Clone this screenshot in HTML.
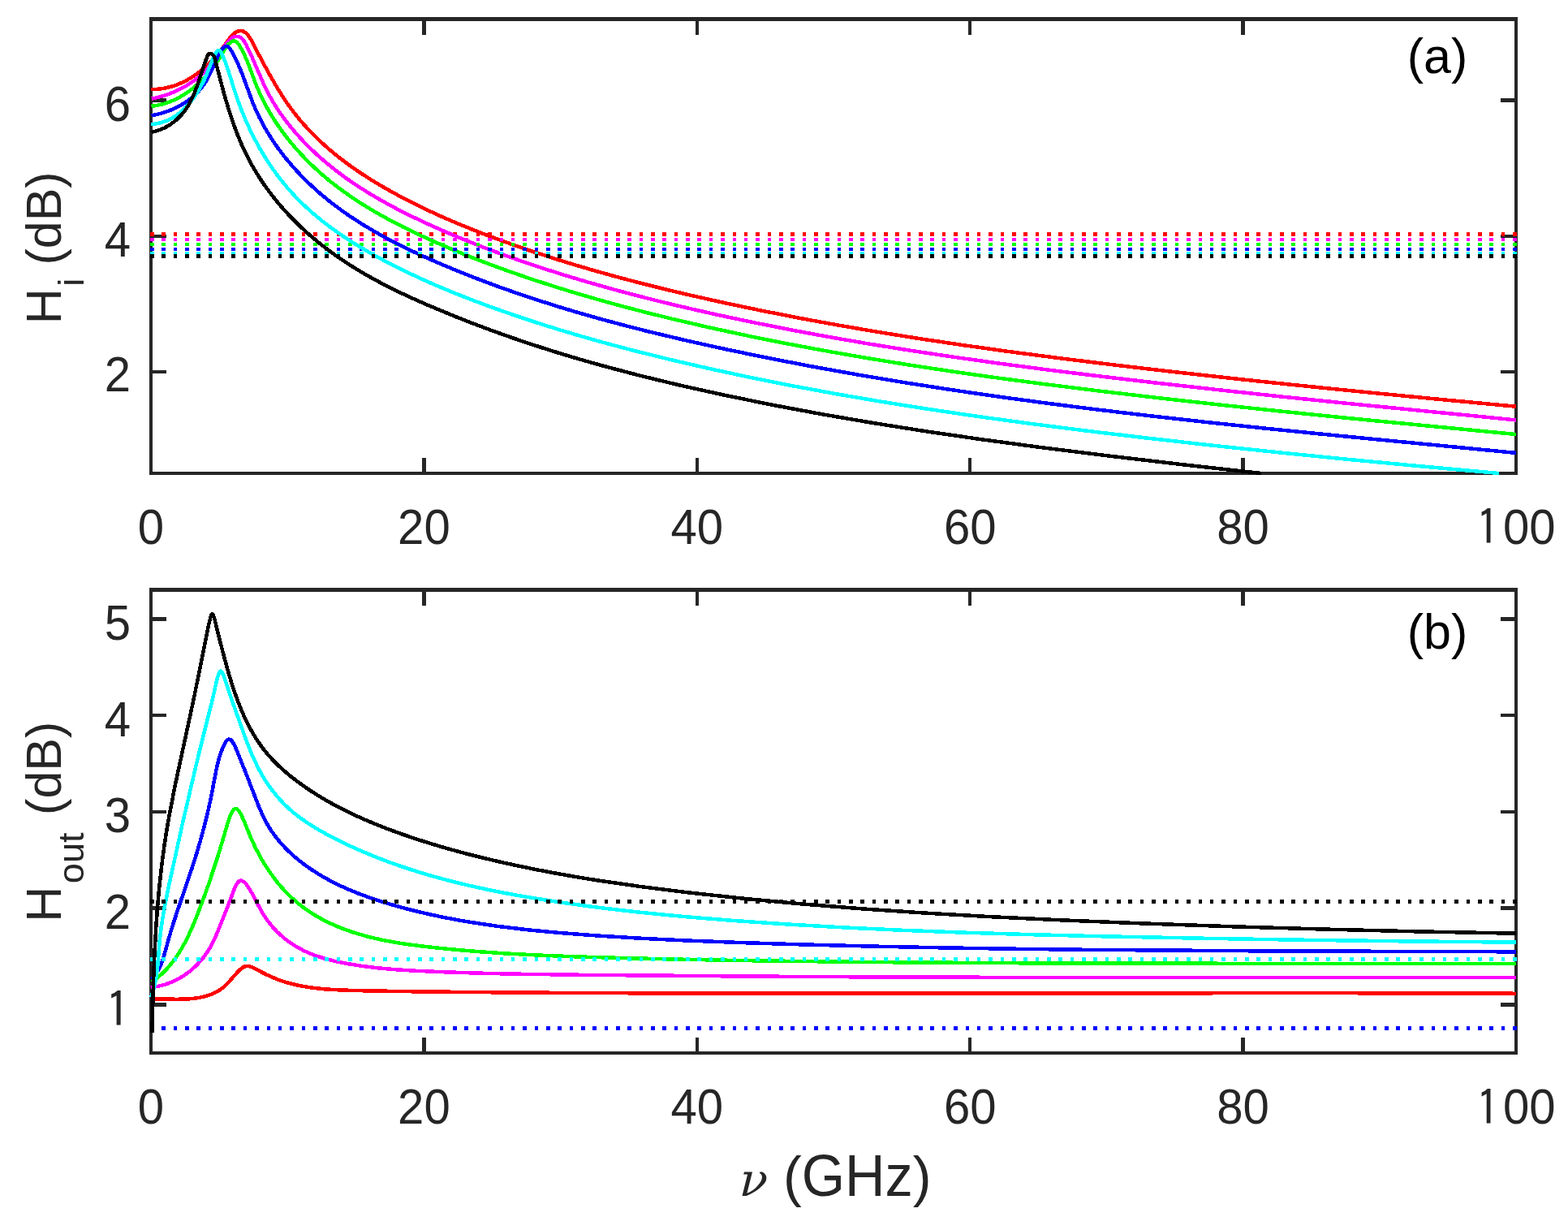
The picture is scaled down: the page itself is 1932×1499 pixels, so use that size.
<!DOCTYPE html>
<html><head><meta charset="utf-8"><title>H_i and H_out vs frequency</title><style>html,body{margin:0;padding:0;background:#fff;}svg{display:block;}</style></head><body>
<svg width="1932" height="1499" viewBox="0 0 1932 1499" shape-rendering="crispEdges">
<defs><clipPath id="ca"><rect x="183.75" y="15" width="1686.5" height="580"/></clipPath><clipPath id="cb"><rect x="183.75" y="718" width="1686.5" height="590"/></clipPath></defs>
<rect width="1932" height="1499" fill="#fff"/>
<g stroke="#262626" stroke-width="4.5"><rect x="186.00" y="23.35" width="1682.00" height="559.65" fill="none" stroke="#262626" stroke-width="4.5"/>
<line x1="522.40" y1="583.00" x2="522.40" y2="563.60"/>
<line x1="522.40" y1="23.35" x2="522.40" y2="42.75"/>
<line x1="858.80" y1="583.00" x2="858.80" y2="563.60"/>
<line x1="858.80" y1="23.35" x2="858.80" y2="42.75"/>
<line x1="1195.20" y1="583.00" x2="1195.20" y2="563.60"/>
<line x1="1195.20" y1="23.35" x2="1195.20" y2="42.75"/>
<line x1="1531.60" y1="583.00" x2="1531.60" y2="563.60"/>
<line x1="1531.60" y1="23.35" x2="1531.60" y2="42.75"/>
<line x1="186.00" y1="123.60" x2="204.70" y2="123.60"/>
<line x1="1868.00" y1="123.60" x2="1849.30" y2="123.60"/>
<line x1="186.00" y1="290.80" x2="204.70" y2="290.80"/>
<line x1="1868.00" y1="290.80" x2="1849.30" y2="290.80"/>
<line x1="186.00" y1="458.00" x2="204.70" y2="458.00"/>
<line x1="1868.00" y1="458.00" x2="1849.30" y2="458.00"/></g>
<g stroke="#262626" stroke-width="4.5"><rect x="186.00" y="726.60" width="1682.00" height="570.40" fill="none" stroke="#262626" stroke-width="4.5"/>
<line x1="522.40" y1="1297.00" x2="522.40" y2="1277.60"/>
<line x1="522.40" y1="726.60" x2="522.40" y2="746.00"/>
<line x1="858.80" y1="1297.00" x2="858.80" y2="1277.60"/>
<line x1="858.80" y1="726.60" x2="858.80" y2="746.00"/>
<line x1="1195.20" y1="1297.00" x2="1195.20" y2="1277.60"/>
<line x1="1195.20" y1="726.60" x2="1195.20" y2="746.00"/>
<line x1="1531.60" y1="1297.00" x2="1531.60" y2="1277.60"/>
<line x1="1531.60" y1="726.60" x2="1531.60" y2="746.00"/>
<line x1="186.00" y1="762.40" x2="204.70" y2="762.40"/>
<line x1="1868.00" y1="762.40" x2="1849.30" y2="762.40"/>
<line x1="186.00" y1="881.20" x2="204.70" y2="881.20"/>
<line x1="1868.00" y1="881.20" x2="1849.30" y2="881.20"/>
<line x1="186.00" y1="1000.00" x2="204.70" y2="1000.00"/>
<line x1="1868.00" y1="1000.00" x2="1849.30" y2="1000.00"/>
<line x1="186.00" y1="1118.70" x2="204.70" y2="1118.70"/>
<line x1="1868.00" y1="1118.70" x2="1849.30" y2="1118.70"/>
<line x1="186.00" y1="1237.40" x2="204.70" y2="1237.40"/>
<line x1="1868.00" y1="1237.40" x2="1849.30" y2="1237.40"/></g>
<g clip-path="url(#ca)" fill="none" stroke-width="4.50" stroke-linejoin="round"><path d="M185.57 110.15 L192.32 109.96 L198.90 109.28 L205.31 108.13 L211.54 106.54 L217.60 104.53 L223.89 101.94 L229.97 98.93 L236.24 95.28 L242.64 90.95 L248.77 86.20 L254.97 80.76 L260.87 74.94 L270.02 64.54 L275.10 57.97 L282.86 47.13 L285.24 44.26 L287.54 41.95 L290.44 39.78 L293.55 38.41 L296.71 37.96 L299.70 38.56 L301.78 39.69 L304.05 41.61 L306.43 44.45 L308.63 47.78 L322.67 74.49 L331.80 91.26 L340.32 106.02 L348.64 119.37 L354.84 128.56 L361.08 137.12 L367.61 145.41 L374.74 153.75 L384.06 163.78 L394.14 173.68 L404.65 183.14 L415.90 192.45 L427.90 201.62 L440.25 210.36 L453.68 219.19 L467.81 227.83 L484.61 237.41 L502.48 246.90 L520.99 256.10 L540.54 265.20 L560.70 274.00 L582.33 282.86 L604.98 291.61 L628.65 300.26 L653.32 308.80 L678.58 317.08 L704.40 325.11 L731.23 333.00 L759.06 340.76 L787.44 348.25 L816.82 355.62 L847.62 362.95 L891.93 372.89 L937.71 382.50 L984.95 391.77 L1033.20 400.61 L1083.37 409.18 L1134.98 417.42 L1188.95 425.46 L1245.27 433.32 L1306.21 441.29 L1372.67 449.47 L1444.64 457.88 L1519.84 466.22 L1596.90 474.37 L1678.56 482.63 L1767.10 491.24 L1868.02 500.74" stroke="#ff0000"/>
<line x1="185" y1="288.50" x2="1868.9" y2="288.50" stroke="#ff0000" stroke-width="4.6" stroke-dasharray="4.6 9.75"/>
<path d="M186.82 121.67 L194.00 120.07 L200.66 118.22 L207.67 115.88 L214.12 113.35 L220.43 110.49 L226.57 107.31 L232.53 103.79 L237.89 100.22 L243.40 96.07 L248.31 91.90 L252.97 87.46 L257.69 82.42 L265.83 72.37 L277.78 55.35 L280.45 52.09 L283.38 49.00 L286.26 46.61 L288.99 45.25 L291.81 44.83 L294.79 45.44 L297.10 46.79 L299.18 48.77 L301.31 51.63 L303.69 55.80 L309.95 69.15 L325.08 103.97 L329.84 113.70 L334.63 122.45 L340.07 131.42 L346.19 140.58 L352.73 149.51 L359.95 158.56 L369.42 169.42 L379.73 180.17 L390.48 190.43 L401.96 200.49 L414.18 210.31 L426.75 219.63 L440.41 228.97 L454.79 238.07 L471.07 247.60 L488.48 257.04 L507.01 266.39 L527.45 276.05 L548.95 285.61 L571.48 295.06 L594.64 304.21 L618.82 313.24 L644.04 322.14 L669.83 330.76 L696.20 339.10 L723.13 347.18 L751.07 355.11 L779.56 362.78 L809.05 370.30 L839.98 377.78 L883.15 387.59 L928.70 397.25 L974.82 406.39 L1022.41 415.19 L1071.46 423.65 L1122.43 431.85 L1175.31 439.79 L1231.02 447.61 L1289.54 455.32 L1353.15 463.20 L1423.67 471.50 L1498.34 479.87 L1574.42 488.04 L1656.95 496.56 L1868.02 517.42" stroke="#ff00ff"/>
<line x1="185" y1="295.00" x2="1868.9" y2="295.00" stroke="#ff00ff" stroke-width="4.6" stroke-dasharray="4.6 9.75"/>
<path d="M186.55 130.91 L193.11 129.95 L199.50 128.51 L205.73 126.63 L212.22 124.14 L218.50 121.20 L224.58 117.85 L230.82 113.86 L236.82 109.48 L242.90 104.44 L248.68 99.07 L254.46 93.06 L259.58 87.11 L267.04 77.03 L270.33 71.88 L276.79 60.86 L278.86 57.82 L281.13 55.03 L283.65 52.57 L286.11 50.93 L287.96 50.43 L289.81 50.71 L291.81 51.96 L294.15 54.73 L297.45 60.21 L300.99 67.09 L306.02 78.81 L313.88 100.08 L317.28 108.62 L322.00 119.12 L327.21 129.42 L332.89 139.49 L339.02 149.33 L345.83 159.31 L353.07 169.01 L362.21 180.21 L372.18 191.32 L382.64 201.95 L393.89 212.39 L405.55 222.29 L417.96 231.96 L431.13 241.40 L445.03 250.59 L460.86 260.24 L477.45 269.58 L495.58 279.05 L514.82 288.42 L536.40 298.28 L559.01 308.02 L582.25 317.44 L606.52 326.72 L631.40 335.70 L657.30 344.55 L683.78 353.12 L711.29 361.55 L739.38 369.69 L768.03 377.56 L797.69 385.27 L827.91 392.73 L872.25 403.00 L919.00 413.10 L966.78 422.73 L1015.59 431.89 L1066.34 440.76 L1118.57 449.26 L1173.19 457.55 L1230.19 465.61 L1290.50 473.59 L1355.93 481.73 L1427.86 490.18 L1503.53 498.62 L1580.62 506.82 L1664.21 515.34 L1868.01 535.03" stroke="#00ff00"/>
<line x1="185" y1="301.00" x2="1868.9" y2="301.00" stroke="#00ff00" stroke-width="4.6" stroke-dasharray="4.6 9.75"/>
<path d="M186.60 142.20 L193.89 140.81 L201.13 138.89 L208.26 136.45 L215.22 133.51 L221.96 130.07 L228.00 126.41 L233.74 122.33 L239.12 117.85 L243.45 113.64 L247.14 109.49 L250.52 105.09 L253.80 100.06 L258.44 91.44 L268.36 69.70 L270.74 64.92 L272.45 62.07 L274.46 59.56 L276.46 57.85 L278.58 56.93 L280.27 57.10 L281.22 57.63 L282.43 58.73 L284.91 62.21 L288.95 69.40 L292.79 77.41 L298.46 91.25 L311.14 125.71 L315.14 135.23 L319.53 144.56 L324.53 154.10 L329.91 163.41 L335.91 172.90 L342.30 182.14 L351.09 193.71 L360.74 205.20 L370.94 216.25 L381.63 226.82 L393.11 237.24 L405.38 247.44 L418.03 257.11 L431.42 266.52 L446.33 276.18 L462.41 285.76 L479.24 295.02 L497.63 304.40 L517.58 313.86 L539.05 323.41 L562.43 333.22 L586.85 342.90 L610.99 351.94 L635.73 360.70 L661.05 369.19 L687.41 377.54 L714.34 385.61 L741.85 393.41 L770.38 401.06 L800.38 408.68 L846.48 419.65 L895.95 430.57 L948.78 441.45 L1003.10 451.90 L1058.01 461.74 L1114.41 471.16 L1172.31 480.17 L1232.62 488.91 L1290.70 496.76 L1351.64 504.47 L1415.91 512.11 L1483.96 519.71 L1550.66 526.78 L1625.32 534.34 L1867.88 557.89" stroke="#0000ff"/>
<line x1="185" y1="307.00" x2="1868.9" y2="307.00" stroke="#0000ff" stroke-width="4.6" stroke-dasharray="4.6 9.75"/>
<path d="M185.90 153.19 L191.91 152.53 L198.12 151.19 L204.01 149.24 L209.61 146.74 L215.30 143.47 L220.64 139.68 L225.66 135.42 L230.68 130.39 L234.73 125.71 L238.51 120.77 L242.03 115.64 L245.54 109.93 L249.63 102.42 L253.26 94.83 L262.52 72.04 L264.45 67.88 L266.19 64.97 L267.89 62.88 L269.36 61.87 L270.46 61.94 L271.69 63.18 L273.00 65.61 L275.58 71.33 L278.22 77.99 L281.62 87.85 L288.29 109.53 L291.87 120.33 L296.62 133.28 L301.84 146.09 L307.74 159.15 L314.16 171.97 L320.84 184.10 L328.00 195.93 L336.18 208.21 L344.91 220.06 L354.19 231.44 L363.70 241.95 L374.04 252.29 L385.22 262.46 L397.23 272.41 L409.69 281.87 L424.12 291.92 L439.78 301.94 L456.65 311.88 L474.68 321.73 L494.22 331.70 L514.84 341.52 L536.10 351.00 L558.44 360.35 L582.29 369.73 L607.64 379.13 L634.07 388.40 L661.10 397.37 L688.74 406.04 L717.43 414.56 L746.72 422.78 L777.04 430.84 L823.18 442.33 L872.75 453.78 L923.86 464.76 L976.52 475.25 L1030.24 485.19 L1085.96 494.74 L1143.67 503.92 L1204.32 512.87 L1269.29 521.78 L1338.59 530.63 L1414.56 539.72 L1493.89 548.65 L1574.69 557.21 L1659.32 565.67 L1749.20 574.18 L1847.07 583.00" stroke="#00ffff"/>
<line x1="185" y1="312.40" x2="1868.9" y2="312.40" stroke="#00ffff" stroke-width="4.6" stroke-dasharray="4.6 9.75"/>
<path d="M186.49 162.89 L192.17 161.56 L198.11 159.53 L203.37 157.14 L208.81 154.05 L213.94 150.46 L218.73 146.43 L223.14 141.98 L227.13 137.17 L230.44 132.44 L233.42 127.48 L236.31 121.90 L239.28 115.25 L243.24 104.84 L251.35 80.34 L255.33 69.55 L256.49 67.49 L257.56 66.36 L258.48 65.93 L259.84 66.00 L261.17 66.62 L262.55 67.92 L263.63 69.64 L264.48 71.69 L275.65 113.86 L279.70 127.93 L283.74 140.91 L288.10 153.73 L292.48 165.45 L297.06 176.53 L302.03 187.42 L306.99 197.24 L312.58 207.27 L318.57 217.08 L324.94 226.67 L331.68 236.03 L339.06 245.52 L346.80 254.75 L354.88 263.71 L363.95 273.08 L373.36 282.13 L383.09 290.84 L393.48 299.51 L404.15 307.80 L415.07 315.72 L426.63 323.53 L438.83 331.24 L451.24 338.58 L464.29 345.82 L477.95 352.96 L492.65 360.21 L507.95 367.35 L524.72 374.80 L562.60 390.54 L583.70 398.79 L604.91 406.72 L626.22 414.35 L648.09 421.83 L670.06 429.01 L692.58 436.04 L715.66 442.91 L739.29 449.62 L788.20 462.57 L840.22 475.13 L895.77 487.39 L955.29 499.45 L1014.97 510.57 L1077.18 521.23 L1141.90 531.43 L1210.57 541.40 L1283.17 551.16 L1363.03 561.15 L1454.45 571.91 L1553.86 583.00" stroke="#000000"/>
<line x1="185" y1="315.40" x2="1868.9" y2="315.40" stroke="#000000" stroke-width="4.6" stroke-dasharray="4.6 9.75"/></g>
<g clip-path="url(#cb)" fill="none" stroke-width="4.50" stroke-linejoin="round"><path d="M185.76 1230.40 L218.95 1230.80 L232.15 1230.42 L239.36 1229.75 L245.69 1228.79 L251.94 1227.42 L257.63 1225.72 L261.96 1224.05 L266.15 1222.09 L270.16 1219.78 L273.62 1217.38 L276.89 1214.66 L279.99 1211.66 L291.46 1198.72 L296.16 1194.00 L298.48 1192.14 L300.52 1190.89 L302.60 1190.06 L304.72 1189.77 L306.88 1190.04 L309.80 1191.08 L329.51 1201.03 L341.31 1206.14 L353.77 1210.34 L367.28 1213.73 L383.09 1216.48 L400.39 1218.35 L419.99 1219.50 L448.65 1220.29 L512.15 1221.34 L612.51 1222.34 L721.85 1223.06 L840.59 1223.50 L1058.95 1223.68 L1594.34 1223.16 L1738.19 1223.33 L1868.01 1223.77" stroke="#ff0000"/>
<path d="M185.64 1216.09 L194.31 1214.91 L202.70 1212.87 L211.18 1209.87 L219.28 1206.04 L226.94 1201.44 L234.50 1195.86 L241.51 1189.57 L247.93 1182.65 L251.86 1177.71 L255.76 1172.18 L259.08 1166.79 L262.28 1160.82 L265.36 1154.28 L268.84 1145.96 L280.58 1116.41 L289.54 1092.89 L291.35 1089.32 L293.27 1086.59 L295.09 1085.08 L296.79 1084.63 L298.84 1085.17 L300.99 1086.67 L303.48 1089.30 L305.98 1092.70 L310.87 1100.84 L320.32 1118.94 L324.10 1125.65 L329.04 1133.14 L334.83 1140.55 L341.82 1148.10 L349.44 1155.01 L357.61 1161.24 L366.27 1166.76 L376.17 1171.91 L386.91 1176.37 L398.88 1180.32 L412.45 1183.83 L428.43 1187.08 L446.26 1189.94 L465.03 1192.24 L485.63 1194.09 L511.64 1195.72 L546.67 1197.25 L587.12 1198.57 L631.20 1199.60 L716.68 1200.80 L920.95 1202.54 L1064.91 1203.36 L1224.18 1203.80 L1867.99 1204.04" stroke="#ff00ff"/>
<path d="M187.03 1209.38 L193.56 1204.59 L199.61 1199.37 L205.54 1193.40 L211.32 1186.67 L216.64 1179.53 L221.79 1171.65 L226.76 1163.03 L231.75 1153.25 L237.12 1141.46 L242.61 1128.13 L249.75 1109.42 L256.77 1089.91 L268.02 1056.06 L280.68 1013.75 L283.21 1006.08 L285.06 1001.64 L286.82 998.50 L288.45 996.67 L290.15 995.94 L291.66 996.32 L293.20 997.54 L295.01 999.84 L296.79 1002.85 L300.43 1010.59 L309.32 1032.47 L314.89 1044.45 L322.98 1059.47 L327.42 1066.76 L331.87 1073.49 L341.19 1086.05 L346.35 1092.22 L351.44 1097.81 L356.74 1103.19 L362.27 1108.34 L368.02 1113.24 L373.62 1117.60 L380.18 1122.25 L386.97 1126.60 L393.95 1130.67 L401.53 1134.68 L409.27 1138.38 L417.58 1141.97 L426.00 1145.24 L434.50 1148.21 L452.64 1153.55 L471.97 1158.03 L493.40 1161.87 L518.30 1165.29 L551.31 1168.86 L586.73 1171.95 L624.08 1174.50 L664.78 1176.62 L710.71 1178.39 L768.51 1180.07 L839.11 1181.71 L914.46 1183.10 L1069.89 1185.06 L1243.82 1186.23 L1394.06 1186.64 L1868.00 1187.18" stroke="#00ff00"/>
<path d="M186.92 1205.99 L191.27 1200.94 L195.06 1195.07 L198.29 1188.38 L201.03 1180.90 L208.16 1155.19 L212.64 1140.28 L218.56 1122.18 L236.47 1069.56 L242.50 1050.41 L247.99 1031.61 L252.90 1013.18 L257.11 995.63 L260.63 978.98 L266.55 947.75 L268.33 940.00 L270.29 932.93 L273.63 923.11 L276.63 916.29 L278.12 913.75 L279.67 911.83 L280.97 910.83 L282.28 910.48 L284.11 911.17 L285.92 913.01 L287.95 916.21 L290.18 920.74 L301.38 948.15 L319.21 994.32 L324.86 1006.85 L330.40 1017.13 L334.17 1023.10 L338.53 1029.26 L343.19 1035.18 L348.48 1041.23 L354.05 1047.01 L359.89 1052.53 L366.35 1058.11 L373.04 1063.41 L381.57 1069.57 L390.36 1075.33 L399.79 1080.95 L409.46 1086.17 L419.77 1091.24 L430.74 1096.13 L441.89 1100.66 L454.14 1105.18 L467.49 1109.66 L481.92 1114.07 L497.40 1118.41 L512.95 1122.40 L528.56 1126.06 L544.72 1129.51 L561.43 1132.74 L578.70 1135.76 L612.88 1140.84 L649.71 1145.23 L689.67 1149.01 L736.71 1152.54 L789.28 1155.74 L846.37 1158.51 L909.49 1160.94 L986.15 1163.33 L1068.33 1165.44 L1154.05 1167.22 L1243.78 1168.67 L1339.54 1169.83 L1540.11 1171.27 L1867.98 1172.34" stroke="#0000ff"/>
<line x1="185" y1="1266.40" x2="1868.9" y2="1266.40" stroke="#0000ff" stroke-width="4.6" stroke-dasharray="4.6 9.75"/>
<path d="M186.21 1228.21 L188.10 1222.57 L189.84 1216.37 L191.38 1209.61 L192.61 1202.79 L194.23 1190.08 L196.72 1158.95 L198.69 1141.92 L202.36 1119.26 L207.91 1091.53 L225.34 1012.41 L241.91 941.37 L250.65 905.73 L261.60 862.51 L267.92 834.44 L269.90 828.54 L270.87 827.03 L271.71 826.55 L272.59 826.85 L273.50 827.90 L275.57 832.26 L284.37 858.73 L303.25 911.59 L310.85 930.56 L318.21 946.12 L322.58 954.12 L327.33 961.90 L332.44 969.43 L337.93 976.68 L343.77 983.63 L349.59 989.86 L355.73 995.77 L362.18 1001.35 L370.62 1007.88 L380.32 1014.55 L390.84 1021.05 L402.59 1027.65 L416.94 1035.07 L431.95 1042.29 L447.61 1049.26 L463.44 1055.79 L478.92 1061.70 L494.54 1067.23 L510.79 1072.56 L527.67 1077.68 L544.66 1082.43 L562.28 1086.97 L580.52 1091.31 L599.89 1095.54 L619.88 1099.55 L640.98 1103.44 L687.04 1110.94 L735.34 1117.62 L786.41 1123.56 L841.31 1128.89 L902.70 1133.87 L970.56 1138.49 L1041.68 1142.52 L1111.77 1145.79 L1186.18 1148.61 L1266.51 1151.06 L1358.10 1153.29 L1480.75 1155.73 L1606.60 1157.76 L1735.68 1159.41 L1868.02 1160.65" stroke="#00ffff"/>
<line x1="185" y1="1181.30" x2="1868.9" y2="1181.30" stroke="#00ffff" stroke-width="4.6" stroke-dasharray="4.6 9.75"/>
<path d="M187.45 1271.71 L188.32 1232.95 L189.35 1200.35 L190.63 1170.58 L192.24 1142.52 L194.21 1115.65 L196.50 1090.54 L199.21 1066.07 L202.36 1042.26 L205.03 1024.76 L208.11 1006.75 L215.95 966.39 L239.06 859.21 L256.97 770.03 L259.59 759.49 L260.56 757.18 L261.54 756.25 L262.03 756.42 L262.67 757.30 L264.11 761.34 L268.95 781.42 L275.66 807.19 L280.44 824.71 L284.81 839.48 L288.51 850.92 L292.34 861.74 L296.10 871.39 L300.19 880.92 L304.88 890.79 L310.01 900.42 L315.29 909.27 L321.02 917.80 L326.87 925.53 L333.16 932.91 L339.86 939.94 L347.35 947.02 L356.93 955.22 L367.82 963.64 L379.03 971.57 L391.01 979.34 L403.78 986.93 L416.82 994.04 L430.62 1000.96 L445.18 1007.69 L461.00 1014.43 L477.55 1020.94 L495.31 1027.44 L513.75 1033.71 L532.32 1039.58 L552.09 1045.39 L572.52 1050.96 L593.59 1056.31 L615.87 1061.57 L638.21 1066.48 L661.19 1071.18 L685.35 1075.77 L709.58 1080.03 L735.00 1084.18 L788.81 1091.99 L850.19 1099.62 L919.06 1107.03 L989.16 1113.54 L1062.76 1119.40 L1138.70 1124.52 L1219.84 1129.14 L1307.89 1133.36 L1408.55 1137.45 L1516.67 1141.21 L1628.80 1144.50 L1745.53 1147.33 L1868.00 1149.73" stroke="#000000"/>
<line x1="185" y1="1110.50" x2="1868.9" y2="1110.50" stroke="#000000" stroke-width="4.6" stroke-dasharray="4.6 9.75"/></g>
<g font-family="Liberation Sans, Arial, Helvetica, sans-serif" font-size="61" fill="#262626">
<text transform="translate(186.00 669.50) scale(0.952 1)" text-anchor="middle">0</text>
<text transform="translate(522.40 669.50) scale(0.952 1)" text-anchor="middle">20</text>
<text transform="translate(858.80 669.50) scale(0.952 1)" text-anchor="middle">40</text>
<text transform="translate(1195.20 669.50) scale(0.952 1)" text-anchor="middle">60</text>
<text transform="translate(1531.60 669.50) scale(0.952 1)" text-anchor="middle">80</text>
<text transform="translate(1868 669.50) scale(0.952 1)"><tspan x="-51.70" y="1.7" font-family="IPAGothic, Liberation Sans, sans-serif">1</tspan><tspan x="50.90" y="0" text-anchor="end">00</tspan></text>
<text transform="translate(161.0 149.40) scale(0.952 1)" text-anchor="end">6</text>
<text transform="translate(161.0 315.90) scale(0.952 1)" text-anchor="end">4</text>
<text transform="translate(161.0 482.40) scale(0.952 1)" text-anchor="end">2</text>
<text transform="translate(186.00 1384.30) scale(0.952 1)" text-anchor="middle">0</text>
<text transform="translate(522.40 1384.30) scale(0.952 1)" text-anchor="middle">20</text>
<text transform="translate(858.80 1384.30) scale(0.952 1)" text-anchor="middle">40</text>
<text transform="translate(1195.20 1384.30) scale(0.952 1)" text-anchor="middle">60</text>
<text transform="translate(1531.60 1384.30) scale(0.952 1)" text-anchor="middle">80</text>
<text transform="translate(1868 1384.30) scale(0.952 1)"><tspan x="-51.70" y="1.7" font-family="IPAGothic, Liberation Sans, sans-serif">1</tspan><tspan x="50.90" y="0" text-anchor="end">00</tspan></text>
<text transform="translate(161.0 787.80) scale(0.952 1)" text-anchor="end">5</text>
<text transform="translate(161.0 906.60) scale(0.952 1)" text-anchor="end">4</text>
<text transform="translate(161.0 1025.40) scale(0.952 1)" text-anchor="end">3</text>
<text transform="translate(161.0 1144.10) scale(0.952 1)" text-anchor="end">2</text>
<text transform="translate(130.1 1265.00)" font-family="IPAGothic, Liberation Sans, sans-serif">1</text>
<text transform="translate(75 399.2) rotate(-90)">H<tspan font-size="45" dx="2.4" dy="28">i</tspan><tspan dx="-0.8" dy="-28"> (dB)</tspan></text>
<text transform="translate(75 1135.8) rotate(-90)">H<tspan font-size="45" dx="3.6" dy="28">out</tspan><tspan dx="4.7" dy="-28"> (dB)</tspan></text>
<text x="905" y="1472.8" font-size="57" font-style="italic" font-family="DejaVu Math TeX Gyre, DejaVu Serif, Liberation Serif, serif">ν</text>
<text x="965" y="1472.8" font-size="68.5">(<tspan x="1124.8">)</tspan></text>
<text transform="translate(987.8 1472.8) scale(1 1.06)" font-size="68.5">GHz</text>
</g>
<g font-family="Liberation Sans, Arial, Helvetica, sans-serif" font-size="61" fill="#000">
<text x="1771" y="90.2" text-anchor="middle">(a)</text>
<text x="1771" y="799.3" text-anchor="middle">(b)</text>
</g>
</svg>
</body></html>
